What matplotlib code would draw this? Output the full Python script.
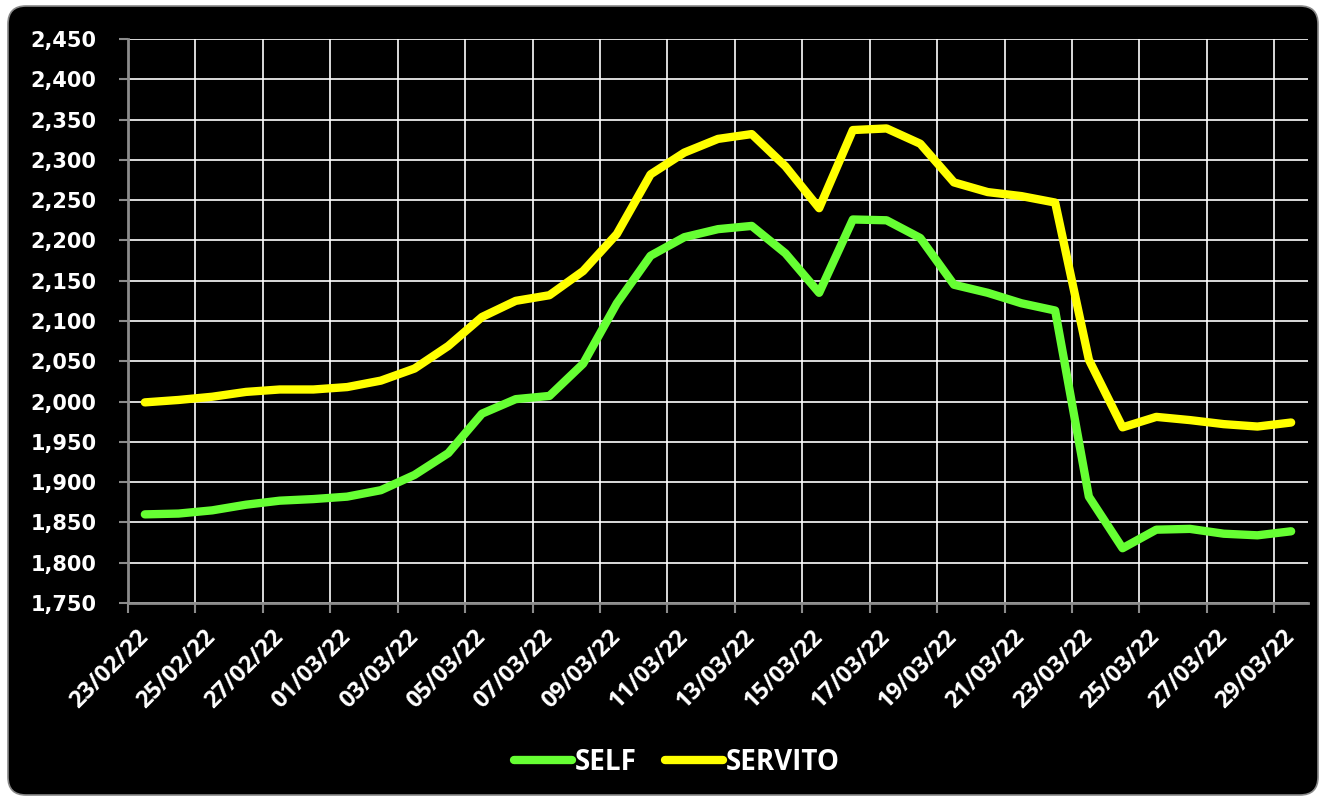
import numpy as np
import matplotlib
matplotlib.use("Agg")
from matplotlib import pyplot as plt
from matplotlib.patches import FancyBboxPatch

# daily average prices (euro / litre), 23/02/22 .. 29/03/22
self_vals = [1.860, 1.861, 1.865, 1.872, 1.877, 1.879, 1.882, 1.890, 1.909, 1.936,
             1.985, 2.003, 2.007, 2.047, 2.122, 2.181, 2.204, 2.214, 2.218, 2.184,
             2.135, 2.226, 2.225, 2.203, 2.145, 2.135, 2.122, 2.113, 1.882, 1.818,
             1.841, 1.842, 1.836, 1.834, 1.839]
servito_vals = [1.999, 2.002, 2.006, 2.012, 2.015, 2.015, 2.018, 2.026, 2.041, 2.069,
                2.105, 2.125, 2.132, 2.162, 2.208, 2.282, 2.309, 2.326, 2.332, 2.292,
                2.240, 2.337, 2.339, 2.320, 2.272, 2.260, 2.255, 2.247, 2.052, 1.968,
                1.981, 1.977, 1.972, 1.969, 1.974]
tick_labels = ['23/02/22', '25/02/22', '27/02/22', '01/03/22', '03/03/22', '05/03/22',
               '07/03/22', '09/03/22', '11/03/22', '13/03/22', '15/03/22', '17/03/22',
               '19/03/22', '21/03/22', '23/03/22', '25/03/22', '27/03/22', '29/03/22']

GREEN = '#66ff33'
YELLOW = '#ffff00'
GRAY = '#8c8c8c'

fig = plt.figure(figsize=(13.25, 7.98), dpi=100, facecolor='white')

# rounded black chart area
bg = FancyBboxPatch((0.08, 0.03), 13.10, 7.89,
                    boxstyle="round,pad=0,rounding_size=0.18",
                    transform=fig.dpi_scale_trans, facecolor='black',
                    edgecolor='#888888', linewidth=1.2, zorder=-10)
fig.patches.append(bg)

ax = fig.add_axes([128/1325, 1 - 603/798, (1308 - 128)/1325, (603 - 39)/798])
ax.set_facecolor('black')

x = np.arange(len(self_vals))
ax.plot(x, self_vals, color=GREEN, lw=6, label='SELF',
        solid_capstyle='round', solid_joinstyle='round', zorder=3)
ax.plot(x, servito_vals, color=YELLOW, lw=6, label='SERVITO',
        solid_capstyle='round', solid_joinstyle='round', zorder=3)

ax.set_xlim(-0.5, len(self_vals) - 0.5)
ax.set_ylim(1.75, 2.45)

# y axis
yt = np.arange(1.75, 2.4501, 0.05)
ax.set_yticks(yt)
ax.set_yticklabels(['{:.3f}'.format(v).replace('.', ',') for v in yt],
                   color='white', fontsize=15, fontweight='bold',
                   family='DejaVu Sans')
ax.tick_params(axis='y', length=6.5, width=1.5, color=GRAY, pad=16)

# x axis: gridlines/ticks between days, labels at the day itself
ax.set_xticks(np.arange(len(tick_labels)) * 2 - 0.5)
ax.set_xticklabels([])
ax.tick_params(axis='x', which='major', length=7, width=1.5, color=GRAY)
ax.set_xticks(np.arange(len(tick_labels)) * 2, minor=True)
ax.set_xticklabels(tick_labels, minor=True, rotation=45, ha='right', va='center',
                   rotation_mode='anchor', color='white', fontsize=17,
                   fontweight='bold', family='Open Sans')
ax.tick_params(axis='x', which='minor', length=0, pad=22)

ax.grid(True, which='major', color='white', lw=1.2)
ax.set_axisbelow(True)

for s in ['top', 'right']:
    ax.spines[s].set_visible(False)
for s in ['left', 'bottom']:
    ax.spines[s].set_color(GRAY)
    ax.spines[s].set_linewidth(2)
    ax.spines[s].set_zorder(2)

leg = fig.legend(loc='center', bbox_to_anchor=(0.511, 0.045), ncol=2,
                 frameon=False, handlelength=2.1, handletextpad=0.1,
                 columnspacing=1.0,
                 prop={'family': 'Open Sans', 'weight': 'bold', 'size': 20})
for t in leg.get_texts():
    t.set_color('white')
for h in leg.get_lines():
    h.set_solid_capstyle('round')

fig.savefig('out.png', dpi=100, facecolor='white')
